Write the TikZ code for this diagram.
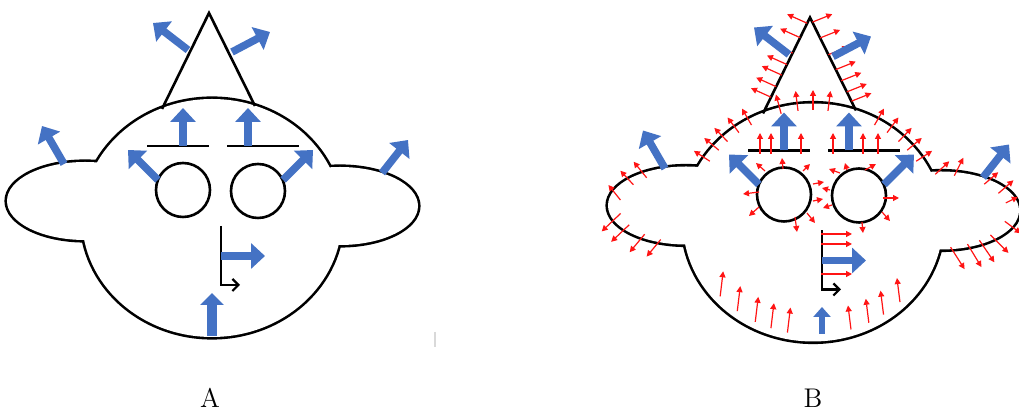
\documentclass[tikz,border=0pt]{standalone}
\usetikzlibrary{arrows.meta,calc}

\definecolor{pushblue}{RGB}{68,114,196}
\definecolor{forcered}{RGB}{255,20,20}

\tikzset{
	faceline/.style={line width=1.3pt},
	push/.style={draw=pushblue, line width=3.8pt, -{Triangle[width=12.5pt,length=7pt]}},
	force/.style={draw=forcered, line width=0.6pt, -{Triangle[width=3pt,length=3pt]}},
	facetag/.style={font=\fontsize{13.5}{16}\selectfont},
	face/.pic={
		% head and ears: stroke twice as wide, then fill, so only the outer rim is left
		\draw[line width=2.6pt] (0,0) ellipse [x radius=130, y radius=119]
			(-127,-17) ellipse [x radius=78, y radius=39]
			(128,-12) ellipse [x radius=78, y radius=39];
		\fill[white] (0,0) ellipse [x radius=130, y radius=119]
			(-127,-17) ellipse [x radius=78, y radius=39]
			(128,-12) ellipse [x radius=78, y radius=39];
		% hat
		\coordinate (-hl) at (-50,-109);
		\coordinate (-ht) at (-3,-205);
		\coordinate (-hr) at (43,-112);
		\draw[faceline] (-hl) -- (-ht) -- (-hr);
		% eyes and brows
		\draw[faceline] (-29,-28) circle [radius=27];
		\draw[faceline] (46,-27) circle [radius=27];
		\draw[faceline] (-65,-72) -- (-3,-72);
		\draw[faceline] (15,-72) -- (87,-72);
		% nose
		\draw[line width=1.1pt, -{Straight Barb[length=3pt,width=6pt]}] (9,8) -- (9,67) -- (28,67);
	},
	pushes/.pic={
		\draw[push] (-29,-72) -- (-29,-110);
		\draw[push] (36,-72) -- (36,-110);
		\draw[push] (-54,-38) -- (-84,-68);
		\draw[push] (71,-38) -- (101,-68);
		\draw[push] (9,38) -- (53,38);
		\draw[push] (-148,-54) -- (-170,-92);
		\draw[push] (170,-45) -- (196,-78);
		\draw[push] (-24,-168) -- (-59,-195);
		\draw[push] (20,-166) -- (58,-186);
	}
}

\begin{document}
\begin{tikzpicture}[x=0.5pt, y=-0.5pt]
	\useasboundingbox (0,0) rectangle (1019,410);

	% left face
	\pic (A) at (212,218) {face};
	\pic at (212,218) {pushes};
	\draw[push, line width=5.3pt, -{Triangle[width=11.5pt,length=6pt]}] (212,336) -- (212,293);
	\draw[black!15, line width=0.6pt] (435,332) -- (435,347);
	\node[facetag] (labA) at (210,398) {A};

	% right face
	\begin{scope}[shift={(813,222.5)}, scale=0.945]
		\pic (B) {face};
	\end{scope}

	% head rim
	\begin{scope}[shift={(813,222.5)}]
		\foreach \t in {-147,-140,-134,-127,-120,-60,-53,-46,-40,-33}
			\draw[force] (\t:123 and 112.5) -- (\t:142 and 131.5);
		\foreach \t in {-105,-97,-90,-83}
			\draw[force] (\t:123 and 112.5) -- (\t:143 and 132.5);
		\foreach \t in {139,128,118,110,102}
			\draw[force] (\t:123 and 112.5) -- ++(3,-25);
		\foreach \t in {72,63,55,45}
			\draw[force] (\t:123 and 112.5) -- ++(-3,-24);
	\end{scope}
	% ears
	\begin{scope}[shift={(693,206.4)}]
		\foreach \t/\dx/\dy in {-129/-13/-16, -144/-13/-14, -170/-12/-15, 169/-19/18, 150/-18/17, 131/-15/18, 116/-14/17}
			\draw[force] (\t:73.7 and 36.9) -- ++(\dx,\dy);
	\end{scope}
	\begin{scope}[shift={(934,211.2)}]
		\foreach \t/\dx/\dy in {-89/14/-13, -74/9/-18, -47/14/-12, -29/15/-13, -13/12/-6, 77/14/22, 63/14/23, 52/15/22, 40/18/18, 16/16/12}
			\draw[force] (\t:73.7 and 36.9) -- ++(\dx,\dy);
	\end{scope}
	% hat
	\foreach \t in {0.17,0.28,0.4,0.51,0.63,0.79,0.94}
		\draw[force] ($(B-hl)!\t!(B-ht)$) -- ++(-20,-9);
	\foreach \t in {0.1,0.2,0.32,0.44,0.6,0.78,0.95}
		\draw[force] ($(B-hr)!\t!(B-ht)$) -- ++(20,-8);
	% brows, nose, eyes
	\foreach \x in {760,771,801,833,863,878}
		\draw[force] (\x,154) -- (\x,133);
	\foreach \y in {234,244,274}
		\draw[force] (821,\y) -- (852,\y);
	\foreach \x/\y/\u/\v in {765/171/756/163, 783/169/782/158, 803/171/810/164, 813/184/824/182,
		813/201/823/199, 759/192/743/194, 759/207/749/216, 795/217/797/232, 807/213/815/223,
		840/173/829/169, 847/170/845/163, 865/170/876/164, 830/190/822/188, 832/205/823/208,
		883/198/899/198, 882/212/890/221, 862/222/863/233}
		\draw[force] (\x,\y) -- (\u,\v);

	\begin{scope}[shift={(813,222.5)}, scale=0.945]
		\pic {pushes};
	\end{scope}
	\draw[push, line width=3.4pt, -{Triangle[width=8.5pt,length=5pt]}] (822,334) -- (822,307);
	\node[facetag] (labB) at (813,398) {B};
\end{tikzpicture}
\end{document}
